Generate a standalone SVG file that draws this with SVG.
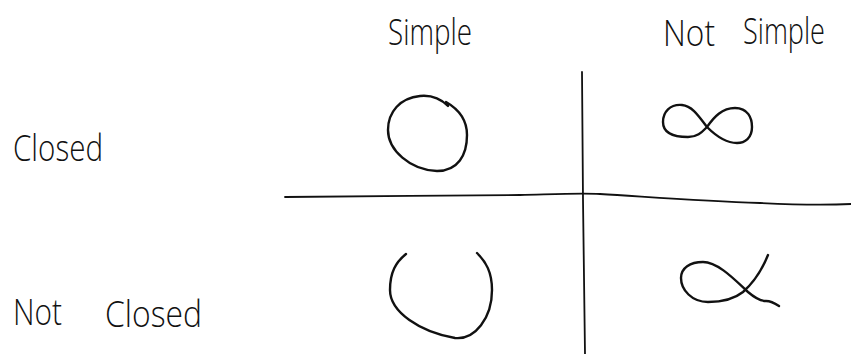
<svg xmlns="http://www.w3.org/2000/svg" width="851" height="354" viewBox="0 0 851 354">
<style>
.ink{fill:none;stroke:#111;stroke-width:2.4;stroke-linecap:round;stroke-linejoin:round}
.grid{fill:none;stroke:#111;stroke-width:1.8;stroke-linecap:round}
.lbl{font-family:"Open Sans","Liberation Sans","DejaVu Sans",sans-serif;font-size:37px;fill:#111;font-weight:300}
</style>
<rect width="851" height="354" fill="#fff"/>
<g id="connectors">
<path class="grid" d="M 582 72 L 583 200 L 585 354"/>
<path class="grid" d="M 285 197 C 350 196 450 196 520 195 C 560 194 580 193 600 194 C 650 197 700 201 760 203 C 800 205 830 205 851 204"/>
</g>
<g id="label-simple"><text class="lbl" x="388" y="45" textLength="84" lengthAdjust="spacingAndGlyphs">Simple</text></g>
<g id="label-not-simple"><text class="lbl" x="663" y="46" textLength="52" lengthAdjust="spacingAndGlyphs">Not</text><text class="lbl" x="743" y="44" textLength="82" lengthAdjust="spacingAndGlyphs">Simple</text></g>
<g id="label-closed"><text class="lbl" x="13" y="161" textLength="90" lengthAdjust="spacingAndGlyphs">Closed</text></g>
<g id="label-not-closed"><text class="lbl" x="13" y="325" textLength="49" lengthAdjust="spacingAndGlyphs">Not</text><text class="lbl" x="105" y="327" textLength="97" lengthAdjust="spacingAndGlyphs">Closed</text></g>
<g id="simple-closed"><path class="ink" d="M 448 106 C 440 98 430 95 420 96 C 400 98 388 112 388 130 C 388 150 410 170 437 171 C 458 171 467 155 467 135 C 467 120 460 110 446 102"/></g>
<g id="simple-not-closed"><path class="ink" d="M 406 254 C 396 262 390 272 390 290 C 390 312 420 332 455 338 C 475 340 492 318 492 290 C 492 272 486 262 477 253"/></g>
<g id="not-simple-closed"><path class="ink" d="M 707 127 C 698 115 692 106 682 105 C 670 104 663 112 663 122 C 663 132 672 137 688 137 C 698 137 702 132 707 127 C 714 117 722 108 735 108 C 748 108 752 118 752 127 C 752 138 745 143 737 143 C 725 143 715 135 707 127"/></g>
<g id="not-simple-not-closed"><path class="ink" d="M 768 255 C 762 270 752 284 743 292 C 733 300 720 302 708 302 C 692 302 681 290 681 278 C 681 268 690 262 703 262 C 718 262 735 280 748 292 C 755 298 760 301 766 301 C 770 301 773 302 779 306"/></g>
</svg>
